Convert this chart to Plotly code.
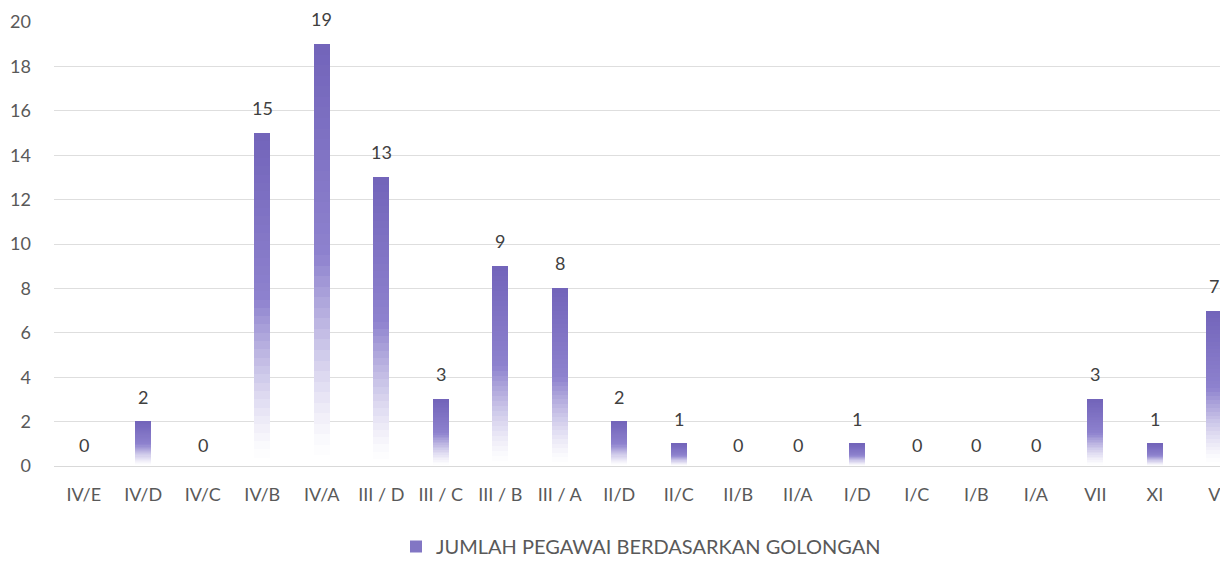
import plotly.graph_objects as go

categories = ["IV/E", "IV/D", "IV/C", "IV/B", "IV/A", "III / D", "III / C", "III / B", "III / A",
              "II/D", "II/C", "II/B", "II/A", "I/D", "I/C", "I/B", "I/A", "VII", "XI", "V"]
values = [0, 2, 0, 15, 19, 13, 3, 9, 8, 2, 1, 0, 0, 1, 0, 0, 0, 3, 1, 7]
series_name = "JUMLAH PEGAWAI BERDASARKAN GOLONGAN"
y_ticks = [0, 2, 4, 6, 8, 10, 12, 14, 16, 18, 20]

TOP = (114, 100, 186)
MID = (142, 130, 206)
WHITE = (255, 255, 255)
N = 40


def mix(a, b, f):
    return tuple(round(a[i] + (b[i] - a[i]) * f) for i in range(3))


def seg_color(t):
    # t: 0 at bottom of bar, 1 at top
    if t >= 0.5:
        c = mix(MID, TOP, (t - 0.5) / 0.5)
    else:
        f = max(0.0, (t - 0.02) / 0.48) ** 1.3
        c = mix(WHITE, MID, f)
    return "rgb(%d,%d,%d)" % c


fig = go.Figure()
for k in range(N):
    t = (k + 0.5) / N
    fig.add_trace(go.Bar(
        x=categories,
        y=[v / N for v in values],
        marker=dict(color=seg_color(t), line=dict(width=0)),
        width=0.27,
        showlegend=False,
        hoverinfo="skip",
    ))

# legend entry
fig.add_trace(go.Bar(
    x=categories, y=[None] * len(categories), name=series_name,
    marker=dict(color="rgb(130,118,196)", line=dict(width=0)), showlegend=True,
))

for c, v in zip(categories, values):
    fig.add_annotation(x=c, y=v, text=str(v), showarrow=False, yanchor="bottom",
                       yshift=12 if v > 0 else 8,
                       font=dict(family="Lato", size=18, color="#404040"))

fig.update_layout(
    width=1220, height=558,
    barmode="stack",
    plot_bgcolor="white", paper_bgcolor="white",
    margin=dict(l=46, r=0, t=14, b=99),
    font=dict(family="Lato", size=17, color="#595959"),
    legend=dict(orientation="h", x=0.5, xanchor="center", y=-0.182, yanchor="middle",
                font=dict(size=20, color="#595959"), itemwidth=30),
    xaxis=dict(range=[-0.5, 19.23], showgrid=False, showline=True, linecolor="#d9d9d9",
               linewidth=1, ticks="", ticklabelstandoff=12, tickfont=dict(size=18),
               fixedrange=True),
    yaxis=dict(range=[0, 20], tickvals=y_ticks, showgrid=True, gridcolor="#dedede",
               gridwidth=1, zeroline=False, ticks="", ticklabelstandoff=22,
               tickfont=dict(size=18), fixedrange=True),
)

fig.write_html("out.html")
